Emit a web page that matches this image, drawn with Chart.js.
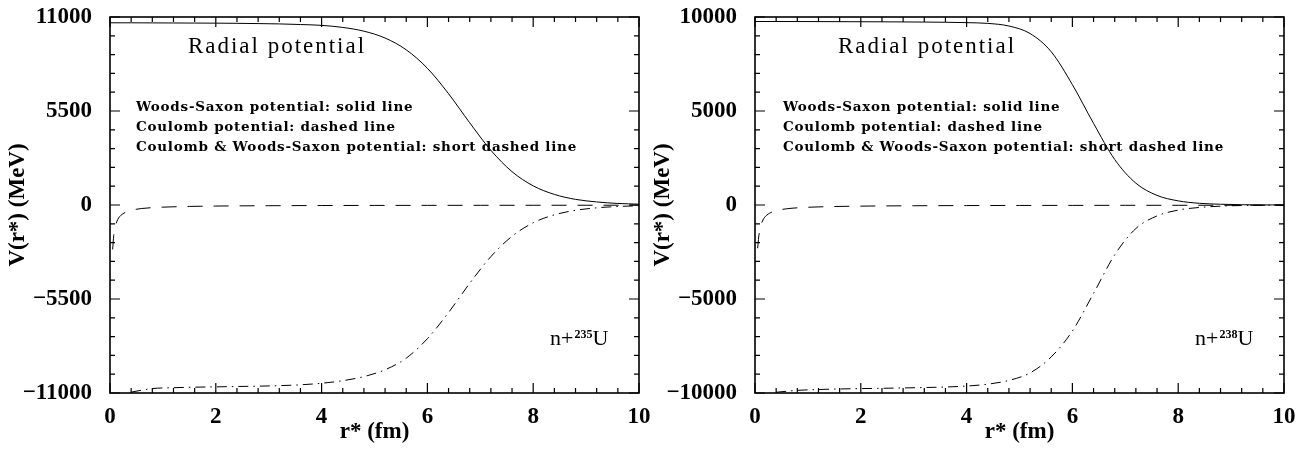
<!DOCTYPE html>
<html>
<head>
<meta charset="utf-8">
<script src="https://cdn.jsdelivr.net/npm/chart.js@4.4.0/dist/chart.umd.min.js"></script>
<style>
  html, body { margin: 0; padding: 0; background: #fff; }
  canvas { position: absolute; top: 0; }
  #chartL { left: 0; }
  #chartR { left: 645px; }
</style>
</head>
<body>
<canvas id="chartL" width="654" height="454"></canvas>
<canvas id="chartR" width="664" height="454"></canvas>
<script>
// values (r in fm, V in MeV)
const radius = [0, 0.4, 0.8, 1.2, 1.6, 2.0, 2.4, 2.8, 3.2, 3.6, 4.0, 4.4, 4.8,
  5.2, 5.6, 6.0, 6.4, 6.8, 7.2, 7.6, 8.0, 8.4, 8.8, 9.2, 9.6, 10.0];

const woodsSaxon235 = [10660, 10660, 10655, 10650, 10645, 10640, 10630, 10615, 10595, 10560, 10510, 10390, 10170,
  9770, 9080, 8000, 6510, 4810, 3200, 1950, 1120, 620, 330, 180, 90, 50];
const combined235 = [null, -10950, -10740, -10690, -10660, -10640, -10620, -10600, -10570, -10520, -10430, -10280, -10040,
  -9640, -8960, -7820, -6290, -4580, -3020, -1830, -1040, -575, -310, -165, -87, -46];

const woodsSaxon238 = [9760, 9760, 9758, 9755, 9752, 9748, 9744, 9738, 9730, 9720, 9700, 9660, 9520,
  9120, 8150, 6400, 4340, 2420, 1160, 510, 220, 90, 40, 15, 5, 2];
const combined238 = [null, -9960, -9860, -9815, -9785, -9765, -9750, -9730, -9710, -9680, -9630, -9530, -9330,
  -8930, -8080, -6700, -4700, -2650, -1250, -580, -270, -130, -62, -28, -12, -4];

const coulombRadius = [0.05, 0.07, 0.1, 0.15, 0.2, 0.3, 0.4, 0.6, 0.8, 1.0, 1.5, 2, 3, 4, 5, 6, 7, 8, 9, 10];
const coulomb235 = [-2600, -1800, -1250, -830, -620, -415, -310, -205, -155, -125, -83, -62, -42, -31, -25, -21, -18, -16, -14, -12];
const coulomb238 = [-2300, -1700, -1200, -800, -600, -400, -300, -200, -150, -120, -80, -60, -40, -30, -24, -20, -17, -15, -13, -12];

const rTicks = [0, 2, 4, 6, 8, 10];
const vTicks235 = [-11000, -5500, 0, 5500, 11000];
const vTicks238 = [-10000, -5000, 0, 5000, 10000];

const titleText = 'Radial potential';
const legendLines = [
  'Woods-Saxon potential: solid line',
  'Coulomb potential: dashed line',
  'Coulomb & Woods-Saxon potential: short dashed line'
];

Chart.defaults.font.family = 'Liberation Serif';
Chart.defaults.color = '#000';

// five minor intervals between labelled ticks
function withMinor(majors) {
  const out = [];
  for (let i = 0; i < majors.length - 1; i++) {
    for (let k = 0; k < 5; k++) out.push(majors[i] + (majors[i + 1] - majors[i]) * k / 5);
  }
  out.push(majors[majors.length - 1]);
  return out;
}

function spacingFor(ctx, text, width) {
  ctx.letterSpacing = '0px';
  return (width - ctx.measureText(text).width) / text.length;
}

const framePlugin = {
  id: 'frame',
  afterDatasetsDraw(chart, args, opts) {
    const { ctx, chartArea: a, scales: { x, y } } = chart;
    ctx.save();
    ctx.strokeStyle = '#000';
    ctx.lineWidth = 1.6;
    ctx.strokeRect(a.left, a.top, a.width, a.height);

    ctx.lineWidth = 1.2;
    ctx.beginPath();
    x.ticks.forEach(t => {
      const p = x.getPixelForValue(t.value);
      const len = rTicks.includes(t.value) ? 10 : 5;
      ctx.moveTo(p, a.bottom); ctx.lineTo(p, a.bottom - len);
      ctx.moveTo(p, a.top); ctx.lineTo(p, a.top + len);
    });
    y.ticks.forEach(t => {
      const p = y.getPixelForValue(t.value);
      const len = opts.vTicks.includes(t.value) ? 10 : 5;
      ctx.moveTo(a.left, p); ctx.lineTo(a.left + len, p);
      ctx.moveTo(a.right, p); ctx.lineTo(a.right - len, p);
    });
    ctx.stroke();

    ctx.fillStyle = '#000';
    ctx.textBaseline = 'alphabetic';
    ctx.textAlign = 'left';
    ctx.font = '23px "Liberation Serif"';
    ctx.letterSpacing = spacingFor(ctx, titleText, 178) + 'px';
    ctx.fillText(titleText, a.left + opts.titleDx, a.top + 36);

    ctx.font = 'bold 13.5px "DejaVu Serif"';
    const ls = spacingFor(ctx, legendLines[2], 441);
    ctx.letterSpacing = ls + 'px';
    legendLines.forEach((line, i) => {
      ctx.fillText(line, a.left + opts.legendDx, a.top + 94 + i * 20);
    });
    ctx.letterSpacing = '0px';

    // nucleus label n+ ^A U
    let nx = a.right - 89;
    const ny = a.bottom - 48;
    ctx.font = '22px "Liberation Serif"';
    ctx.fillText('n+', nx, ny);
    nx += ctx.measureText('n+').width + 1;
    ctx.font = 'bold 12px "Liberation Serif"';
    ctx.fillText(opts.mass, nx, ny - 7);
    nx += ctx.measureText(opts.mass).width;
    ctx.font = '22px "Liberation Serif"';
    ctx.fillText('U', nx, ny);
    ctx.restore();
  }
};

function makePanel(id, ws, comb, coul, vTicks, mass, padRight, titleDx, legendDx) {
  const line = (xs, ys, dash) => ({
    data: xs.map((r, i) => ({ x: r, y: ys[i] })),
    borderColor: '#000',
    borderWidth: 1,
    borderDash: dash,
    pointRadius: 0,
    cubicInterpolationMode: 'monotone',
    spanGaps: true
  });
  return new Chart(document.getElementById(id), {
    type: 'line',
    data: {
      datasets: [
        line(radius, ws, []),
        line(coulombRadius, coul, [15, 11]),
        line(radius, comb, [10, 5, 1.5, 5])
      ]
    },
    options: {
      responsive: false,
      animation: false,
      layout: { padding: { top: 17, right: padRight, bottom: 0, left: 0 } },
      plugins: {
        legend: { display: false },
        tooltip: { enabled: false },
        frame: { vTicks: vTicks, mass: mass, titleDx: titleDx, legendDx: legendDx }
      },
      scales: {
        x: {
          type: 'linear',
          min: 0,
          max: 10,
          grid: { display: false, drawTicks: false },
          border: { display: false },
          afterBuildTicks: s => { s.ticks = withMinor(rTicks).map(v => ({ value: v })); },
          afterFit: s => { s.height = 61; s.paddingLeft = 0; s.paddingRight = 0; },
          ticks: {
            autoSkip: false,
            maxRotation: 0,
            padding: 10,
            font: { size: 23, weight: 'bold' },
            callback: v => rTicks.includes(v) ? String(v) : ''
          },
          title: {
            display: true,
            text: 'r* (fm)',
            font: { size: 23, weight: 'bold' },
            padding: { top: 0, bottom: 8 }
          }
        },
        y: {
          min: vTicks[0],
          max: vTicks[vTicks.length - 1],
          grid: { display: false, drawTicks: false },
          border: { display: false },
          afterBuildTicks: s => { s.ticks = withMinor(vTicks).map(v => ({ value: v })); },
          afterFit: s => { s.width = 110; s.paddingTop = 0; s.paddingBottom = 0; },
          ticks: {
            autoSkip: false,
            padding: 18,
            font: { size: 23, weight: 'bold' },
            callback: v => vTicks.includes(v) ? String(v).replace('-', '\u2212') : ''
          },
          title: {
            display: true,
            text: 'V(r*) (MeV)',
            font: { size: 23, weight: 'bold' },
            padding: { top: 4, bottom: 0 }
          }
        }
      }
    },
    plugins: [framePlugin]
  });
}

makePanel('chartL', woodsSaxon235, combined235, coulomb235, vTicks235, '235', 15, 78, 26);
makePanel('chartR', woodsSaxon238, combined238, coulomb238, vTicks238, '238', 25, 83, 28);
</script>
</body>
</html>
